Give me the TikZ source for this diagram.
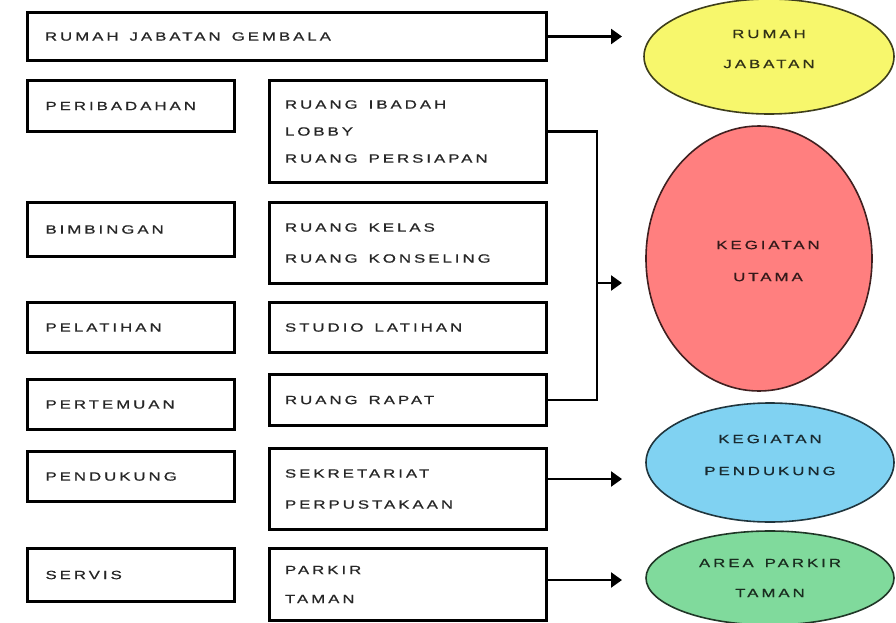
\documentclass[tikz,border=0pt]{standalone}
\usepackage{fontspec}
\setmainfont{Liberation Sans}[LetterSpace=25, FakeStretch=1.4, FakeBold=0.8]
\usetikzlibrary{shapes.geometric,arrows.meta}
\definecolor{cyel}{HTML}{F7F76C}
\definecolor{cred}{HTML}{FF7F7F}
\definecolor{cblue}{HTML}{80D2F2}
\definecolor{cgreen}{HTML}{80DA9C}
\newcommand{\wsp}{\hspace{11pt}}
\tikzset{
  box/.style={draw, line width=2.8pt, rectangle, anchor=north west, align=left,
    outer sep=0pt, inner ysep=0pt, font=\fontsize{12}{29}\selectfont, text=black!85},
  lbox/.style={box, inner xsep=18pt, text width=171pt},
  rbox/.style={box, inner xsep=15.5pt, text width=246pt},
  oval/.style={ellipse, draw=#1!25!black, fill=#1, line width=1.6pt, inner sep=0pt},
  otext/.style={align=center, inner sep=0pt, font=\fontsize{12}{30}\selectfont, text=#1!20!black},
  arr/.style={line width=2.4pt, -{Triangle[length=11pt,width=15pt]}},
  line/.style={line width=2.4pt}
}
\begin{document}
\begin{tikzpicture}[x=1pt,y=-1pt]
\useasboundingbox (0,0) rectangle (896,623);
% top box
\node[box, inner xsep=17.5pt, text width=484pt, minimum height=48pt] (top) at (27.5,12.5) {RUMAH\wsp JABATAN\wsp GEMBALA};
% left column
\node[lbox, minimum height=51pt] (ibd) at (27.5,80.5) {PERIBADAHAN};
\node[lbox, minimum height=54pt] (bim) at (27.5,202.5) {BIMBINGAN};
\node[lbox, minimum height=50pt] (pel) at (27.5,302.5) {PELATIHAN};
\node[lbox, minimum height=50pt] (per) at (27.5,379.5) {PERTEMUAN};
\node[lbox, minimum height=50pt] (pen) at (27.5,451.5) {PENDUKUNG};
\node[lbox, minimum height=53pt] (ser) at (27.5,548.5) {SERVIS};
% right column
\node[rbox, minimum height=102pt, font=\fontsize{12}{27}\selectfont] (rib) at (269.5,80.5) {RUANG\wsp IBADAH\\LOBBY\\RUANG\wsp PERSIAPAN};
\node[rbox, minimum height=81pt, font=\fontsize{12}{31}\selectfont] (rke) at (269.5,202.5) {RUANG\wsp KELAS\\RUANG\wsp KONSELING};
\node[rbox, minimum height=50pt] (stu) at (269.5,302.5) {STUDIO\wsp LATIHAN};
\node[rbox, minimum height=51pt] (rap) at (269.5,374.5) {RUANG\wsp RAPAT};
\node[rbox, minimum height=81pt, font=\fontsize{12}{31}\selectfont] (sek) at (269.5,448.5) {SEKRETARIAT\\PERPUSTAKAAN};
\node[rbox, minimum height=72pt] (par) at (269.5,548.5) {PARKIR\\TAMAN};
% ellipses
\node[oval=cyel, minimum width=250pt, minimum height=115pt] (e1) at (769,56.5) {};
\node[oval=cred, minimum width=226pt, minimum height=265pt] (e2) at (759,258.5) {};
\node[oval=cblue, minimum width=248pt, minimum height=119pt] (e3) at (770,462.5) {};
\node[oval=cgreen, minimum width=248pt, minimum height=94pt] (e4) at (770,578) {};
\node[otext=cyel] (e1t) at (769,49) {RUMAH\\JABATAN};
\node[otext=cred, font=\fontsize{12}{32}\selectfont] (e2t) at (768,261) {KEGIATAN\\UTAMA};
\node[otext=cblue, font=\fontsize{12}{32}\selectfont] (e3t) at (770,455) {KEGIATAN\\PENDUKUNG};
\node[otext=cgreen] (e4t) at (770,578) {AREA\wsp PARKIR\\TAMAN};
% connectors
\coordinate (t1) at (622,36.5);
\coordinate (j) at (597,283);
\coordinate (t2) at (622,283);
\coordinate (t3) at (622,479);
\coordinate (t4) at (622,580);
\draw[arr] (top.east) -- (top.east -| t1);
\draw[line] (rib.east) -| (j) |- (rap.east);
\draw[arr] (j) -- (t2);
\draw[arr] (sek.east |- t3) -- (t3);
\draw[arr] (par.east |- t4) -- (t4);
\end{tikzpicture}
\end{document}
